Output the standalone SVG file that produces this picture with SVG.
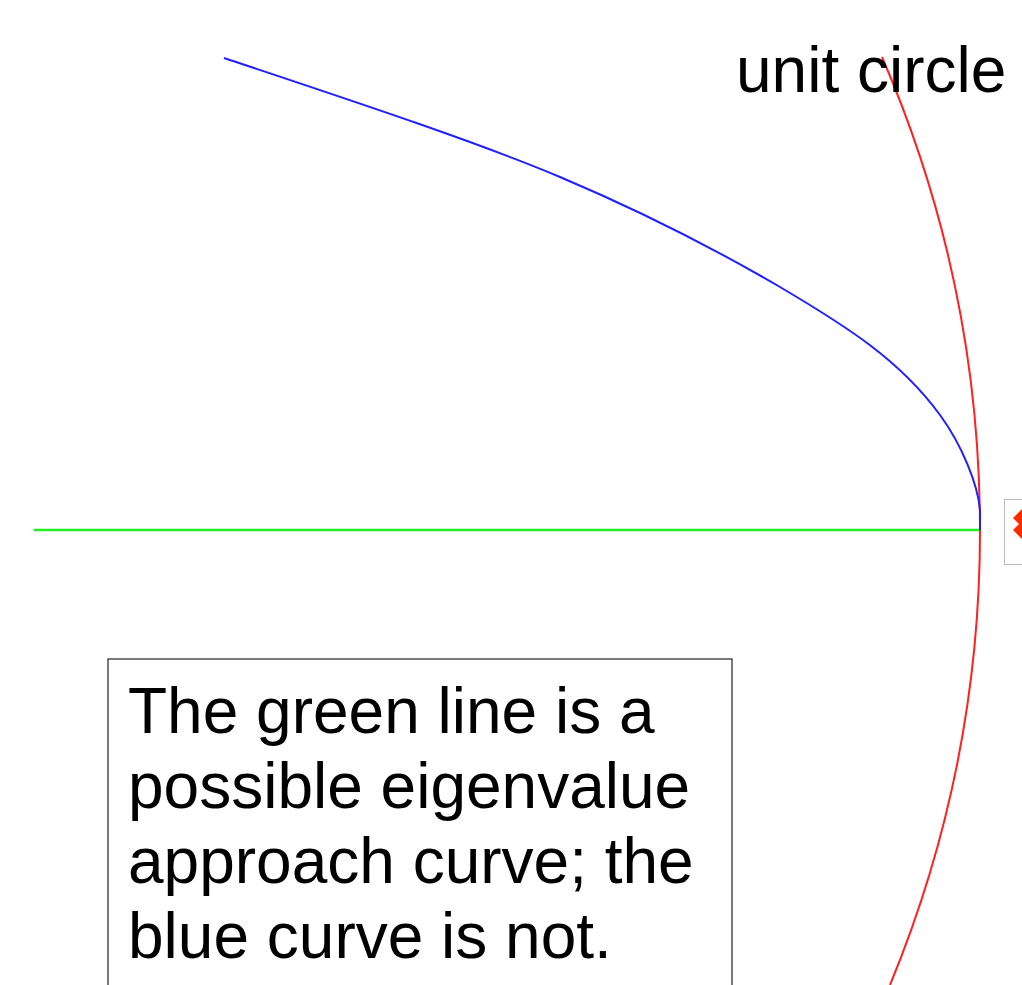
<svg xmlns="http://www.w3.org/2000/svg" width="1022" height="985" viewBox="0 0 1022 985">
  <style>
    .lbl { font-family: "Liberation Sans", Arial, sans-serif; font-size: 64px; fill: #000; }
    .curve { fill: none; stroke-width: 2; stroke-linejoin: round; stroke-linecap: butt; }
  </style>
  <rect width="1022" height="985" fill="#fff"/>
  <g id="connectors">
    <line id="green-line" x1="34" y1="530" x2="980" y2="530" stroke="#22ee22" stroke-width="2.5"/>
    <path id="unit-circle" class="curve" stroke="#ff2020" d="M882,57 A1192.7,1192.7 0 0,1 890,985"/>
    <path id="blue-curve" class="curve" stroke="#2020ff" d="M224,58 C350,100 480,143 560,177 C650,215 720,252 780,287 C846,326 900,360 940,415 C962,445 978,485 980,510 L980,530"/>
  </g>
  <g id="label-unit-circle">
    <text class="lbl" x="736" y="92">unit circle</text>
  </g>
  <g id="note">
    <rect x="108" y="659" width="624" height="340" fill="none" stroke="#222" stroke-width="1.2"/>
    <text class="lbl" x="128" y="733">The green line is a</text>
    <text class="lbl" x="128" y="808">possible eigenvalue</text>
    <text class="lbl" x="128" y="883">approach curve; the</text>
    <text class="lbl" x="128" y="958">blue curve is not.</text>
  </g>
  <g id="side-icon">
    <rect x="1004.5" y="499.5" width="30" height="65" fill="#fff" stroke="#bbb" stroke-width="1"/>
    <polygon points="1022,509 1013,518 1019,524 1013,530 1022,539" fill="#ff2a00"/>
  </g>
</svg>
